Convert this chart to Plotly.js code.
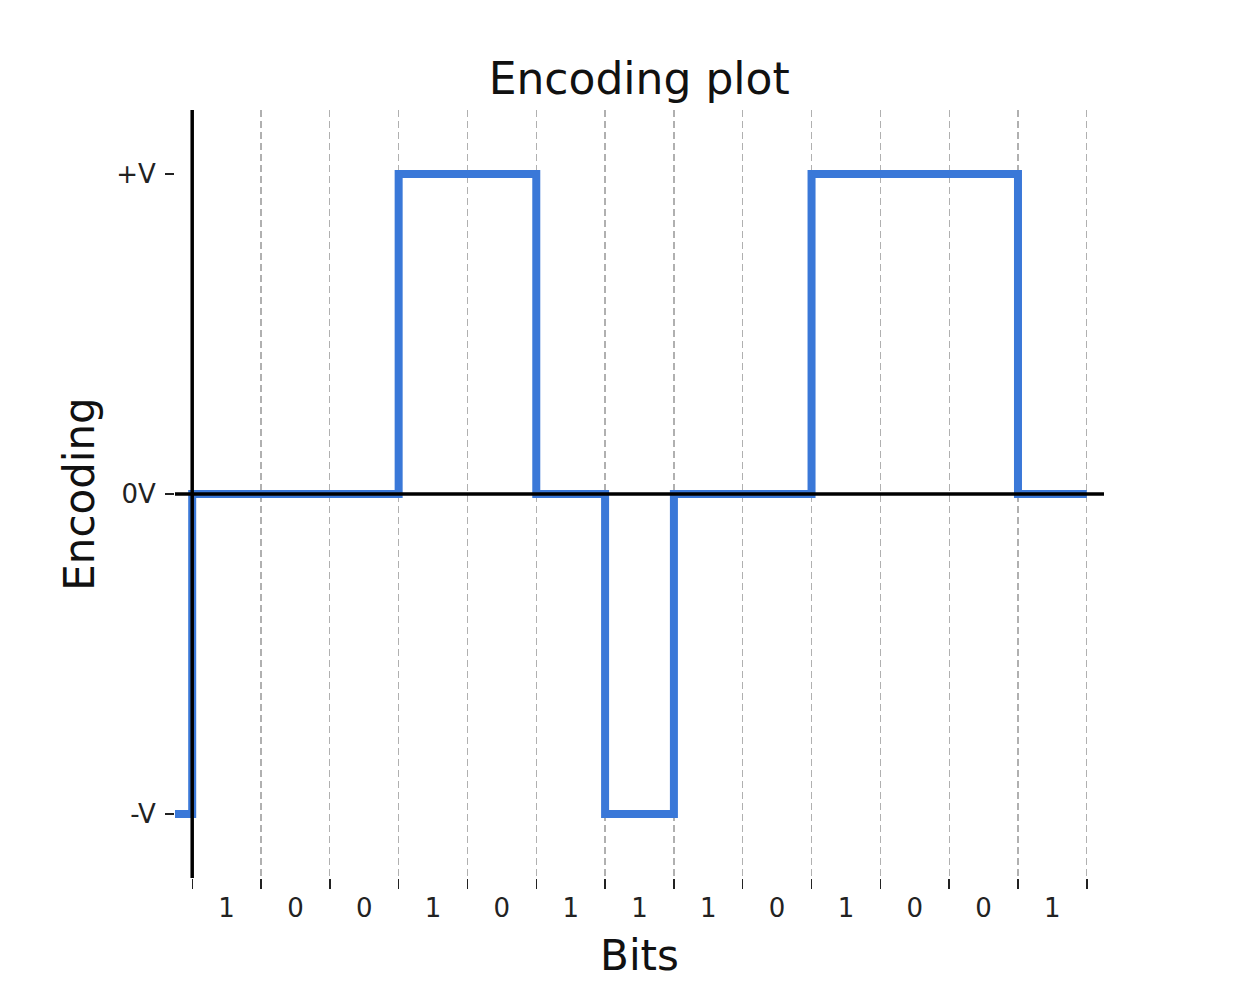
<!DOCTYPE html>
<html>
<head>
<meta charset="utf-8">
<script src="https://cdn.plot.ly/plotly-3.0.1.min.js"></script>
<style>html,body{margin:0;padding:0;background:#fff;}#chart{width:1246px;height:1004px;}</style>
</head>
<body>
<div id="chart"></div>
<script>
// Data
const bits = ['1','0','0','1','0','1','1','1','0','1','0','0','1'];
const startLevel = -1;           // level before the first bit
const levels = [0, 0, 0, 1, 1, 0, -1, 0, 0, 1, 1, 1, 0];
const levelLabels = ['-V', '0V', '+V'];
const levelValues = [-1, 0, 1];

// Build step trace
const xs = [-0.25];
const ys = [startLevel];
for (let i = 0; i < levels.length; i++) { xs.push(i); ys.push(levels[i]); }
xs.push(levels.length); ys.push(levels[levels.length - 1]);

const bitPos = bits.map((b, i) => i + 0.5);

const trace = {
  x: xs, y: ys, type: 'scatter', mode: 'lines',
  line: {shape: 'hv', color: '#3a78d8', width: 8},
  hoverinfo: 'skip', showlegend: false
};

const fam = 'DejaVu Sans, sans-serif';

const layout = {
  width: 1246, height: 1004,
  margin: {l: 175, r: 142, t: 110, b: 126},
  paper_bgcolor: '#fff', plot_bgcolor: '#fff',
  font: {family: fam, color: '#111'},
  title: {text: 'Encoding plot', font: {family: fam, size: 44, color: '#111'},
          x: 0.513, xanchor: 'center', y: 0.922, yanchor: 'middle'},
  xaxis: {
    range: [-0.25, 13.25], zeroline: false, showline: false, showgrid: false,
    tickmode: 'array', tickvals: bitPos, ticktext: bits, ticks: '',
    tickfont: {family: fam, size: 26, color: '#222'},
    ticklabelstandoff: 12,
    minor: {tick0: 0, dtick: 1, ticks: 'outside', ticklen: 10, tickwidth: 1.4, tickcolor: '#222',
            showgrid: true, gridcolor: '#b0b0b0', gridwidth: 1.3, griddash: '7px,4px'},
    title: {text: 'Bits', font: {family: fam, size: 42, color: '#111'}, standoff: 18},
    fixedrange: true
  },
  yaxis: {
    range: [-1.2, 1.2], zeroline: false, showline: false, showgrid: false,
    tickmode: 'array', tickvals: levelValues, ticktext: levelLabels,
    ticks: 'outside', ticklen: 9, tickwidth: 1.4, tickcolor: '#222',
    tickfont: {family: fam, size: 26, color: '#222'},
    ticklabelstandoff: 4,
    title: {text: 'Encoding', font: {family: fam, size: 42, color: '#111'}, standoff: 8},
    fixedrange: true
  },
  shapes: [
    {type: 'line', xref: 'x', yref: 'y', x0: 0, x1: 0, y0: -1.2, y1: 1.2,
     line: {color: '#000', width: 3.5}, layer: 'above'},
    {type: 'line', xref: 'x', yref: 'y', x0: -0.25, x1: 13.25, y0: 0, y1: 0,
     line: {color: '#000', width: 3.5}, layer: 'above'}
  ]
};

Plotly.newPlot('chart', [trace], layout, {displayModeBar: false, staticPlot: true});
</script>
</body>
</html>
